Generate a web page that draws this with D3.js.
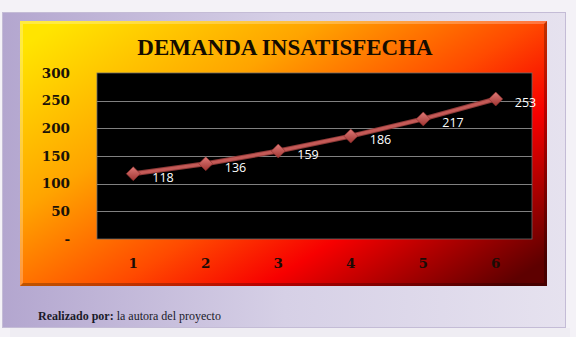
<!DOCTYPE html>
<html>
<head>
<meta charset="utf-8">
<script src="https://cdn.jsdelivr.net/npm/d3@7"></script>
<style>
  html, body { margin: 0; padding: 0; background: #f4f2f7; }
  svg { display: block; }
</style>
</head>
<body>
<div id="chart"></div>
<script>
// chart data
var categories = ['1', '2', '3', '4', '5', '6'];
var demanda = [118, 136, 159, 186, 217, 253];
var yTicks = [0, 50, 100, 150, 200, 250, 300];
var titulo = 'DEMANDA INSATISFECHA';

var W = 576, H = 337;
var plot = {left: 97, top: 73, right: 532, bottom: 239};

var svg = d3.select('#chart').append('svg')
  .attr('width', W).attr('height', H);

var defs = svg.append('defs');

// lavender frame gradient
var lav = defs.append('linearGradient').attr('id', 'lav')
  .attr('x1', '0').attr('y1', '0').attr('x2', '1').attr('y2', '0');
lav.append('stop').attr('offset', '0').attr('stop-color', '#b3a6cf');
lav.append('stop').attr('offset', '0.5').attr('stop-color', '#d6d0e6');
lav.append('stop').attr('offset', '1').attr('stop-color', '#e6e2ef');

// fiery panel gradient (diagonal)
var fire = defs.append('linearGradient').attr('id', 'fire')
  .attr('x1', '0').attr('y1', '0.1').attr('x2', '1').attr('y2', '0.9');
fire.append('stop').attr('offset', '0').attr('stop-color', '#ffe500');
fire.append('stop').attr('offset', '0.3').attr('stop-color', '#ffa400');
fire.append('stop').attr('offset', '0.55').attr('stop-color', '#ff4a00');
fire.append('stop').attr('offset', '0.72').attr('stop-color', '#f70000');
fire.append('stop').attr('offset', '1').attr('stop-color', '#5e0000');

// diamond shading
var dia = defs.append('linearGradient').attr('id', 'dia')
  .attr('x1', '0').attr('y1', '0').attr('x2', '0').attr('y2', '1');
dia.append('stop').attr('offset', '0').attr('stop-color', '#e07a77');
dia.append('stop').attr('offset', '1').attr('stop-color', '#9e3431');

// lower shadow strip and frame
svg.append('rect').attr('x', 10).attr('y', 328).attr('width', 560).attr('height', 9)
  .style('fill', '#efedf3');
svg.append('rect').attr('x', 2.5).attr('y', 12.5).attr('width', 563).attr('height', 315)
  .style('fill', 'url(#lav)').style('stroke', '#c4bcd6').style('stroke-width', 1);

// fiery panel with bevel
svg.append('rect').attr('x', 20).attr('y', 21).attr('width', 527).attr('height', 265)
  .style('fill', 'url(#fire)');
svg.append('path')
  .attr('d', 'M20,21 H547 L544,24 H23 V283 L20,286 Z')
  .style('fill', '#ffffff').style('opacity', 0.25);
svg.append('path')
  .attr('d', 'M547,21 V286 H20 L23,283 H544 V24 Z')
  .style('fill', '#000000').style('opacity', 0.25);

// scales
var x = d3.scaleBand().domain(categories).range([plot.left, plot.right]);
var y = d3.scaleLinear().domain([0, 300]).range([plot.bottom, plot.top]);

// plot area
svg.append('rect')
  .attr('x', plot.left).attr('y', plot.top)
  .attr('width', plot.right - plot.left).attr('height', plot.bottom - plot.top)
  .style('fill', '#000000').style('stroke', '#6a6a6a').style('stroke-width', 0.8);

// gridlines
svg.append('g').selectAll('line')
  .data(yTicks.slice(1, -1))
  .enter().append('line')
  .attr('x1', plot.left).attr('x2', plot.right)
  .attr('y1', function(d){ return Math.round(y(d)) + 0.5; })
  .attr('y2', function(d){ return Math.round(y(d)) + 0.5; })
  .style('stroke', '#808080').style('stroke-width', 1);

// y axis labels
var yAxis = d3.axisLeft(y).tickValues(yTicks).tickSize(0).tickPadding(0)
  .tickFormat(function(d){ return d === 0 ? '-' : d; });
var gy = svg.append('g').attr('transform', 'translate(70,0)').call(yAxis);
gy.select('.domain').remove();
gy.selectAll('text')
  .style('font-family', '"DejaVu Serif", serif').style('font-weight', 'bold')
  .style('font-size', '13.5px').style('fill', '#1a1208');

// x axis labels
var xAxis = d3.axisBottom(x).tickSize(0).tickPadding(0);
var gx = svg.append('g').attr('transform', 'translate(0,' + (plot.bottom + 19) + ')').call(xAxis);
gx.select('.domain').remove();
gx.selectAll('text')
  .style('font-family', '"DejaVu Serif", serif').style('font-weight', 'bold')
  .style('font-size', '13.5px').style('fill', '#1a0c06');

// title
svg.append('text')
  .attr('x', 285).attr('y', 55)
  .attr('text-anchor', 'middle')
  .style('font-family', '"Liberation Serif", "Times New Roman", serif')
  .style('font-weight', 'bold').style('font-size', '23px').style('fill', '#140c00')
  .text(titulo);

// line
var pts = categories.map(function(c, i){ return [x(c) + x.bandwidth() / 2, y(demanda[i])]; });
var line = d3.line();
svg.append('path').attr('d', line(pts))
  .style('fill', 'none').style('stroke', '#8f3a38').style('stroke-width', 5)
  .style('stroke-linejoin', 'round');
svg.append('path').attr('d', line(pts))
  .style('fill', 'none').style('stroke', '#c45a57').style('stroke-width', 3)
  .style('stroke-linejoin', 'round');

// diamond markers
svg.append('g').selectAll('path')
  .data(pts)
  .enter().append('path')
  .attr('transform', function(d){ return 'translate(' + d[0] + ',' + d[1] + ')'; })
  .attr('d', 'M0,-7 L7,0 L0,7 L-7,0 Z')
  .style('fill', 'url(#dia)').style('stroke', '#8a2e2b').style('stroke-width', 0.6);

// data labels
svg.append('g').selectAll('text')
  .data(pts)
  .enter().append('text')
  .attr('x', function(d){ return d[0] + 19; })
  .attr('y', function(d){ return d[1] + 8; })
  .style('font-family', '"Open Sans", "Liberation Sans", sans-serif')
  .style('font-size', '12.5px').style('fill', '#ffffff')
  .text(function(d, i){ return demanda[i]; });

// footer note
var note = svg.append('text').attr('x', 38).attr('y', 320)
  .style('font-family', '"Liberation Serif", "Times New Roman", serif')
  .style('font-size', '12px').style('fill', '#1a1a2a');
note.append('tspan').style('font-weight', 'bold').text('Realizado por: ');
note.append('tspan').text('la autora del proyecto');
</script>
</body>
</html>
